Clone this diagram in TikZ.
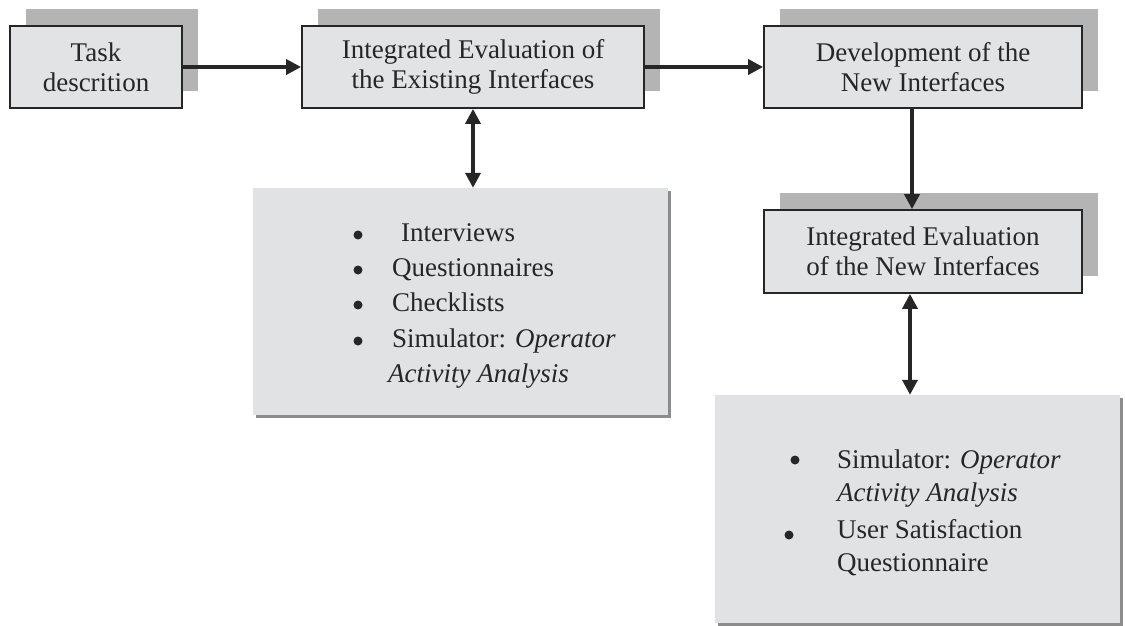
\documentclass[tikz,border=0pt]{standalone}
\usepackage{fontspec}
\setmainfont{Liberation Serif}
\usetikzlibrary{arrows.meta,shadows}
\definecolor{boxfill}{HTML}{E2E3E5}
\definecolor{shadowgray}{HTML}{B4B4B4}
\definecolor{edge}{HTML}{262626}
\definecolor{listfill}{HTML}{E1E2E4}
\definecolor{listshadow}{HTML}{8C8C8C}
\tikzset{
  stage/.style={draw=edge, line width=1.8pt, fill=boxfill, inner sep=0pt, align=center, text=black!85,
    general shadow={draw=none, fill=shadowgray, shadow xshift=16pt, shadow yshift=17pt}},
  listbox/.style={draw=none, fill=listfill, inner sep=0pt,
    general shadow={draw=none, fill=listshadow, shadow xshift=3pt, shadow yshift=-3pt}},
  arr/.style={line width=3.6pt, draw=edge, -{Triangle[length=15pt,width=15pt]}},
  arrtwo/.style={line width=3.6pt, draw=edge, {Triangle[length=15pt,width=15pt]}-{Triangle[length=15pt,width=15pt]}},
  bul/.style={circle, fill=black!85, inner sep=0pt, minimum size=9pt},
  item/.style={anchor=mid west, inner sep=0pt, text=black!85}
}
\begin{document}
\begin{tikzpicture}[x=1pt,y=-1pt, font=\fontsize{27}{30}\selectfont]
\useasboundingbox (0,0) rectangle (1125,626);
% main stages
\node[stage, minimum width=172pt, minimum height=82pt] (task) at (96,67) {Task\\descrition};
\node[stage, minimum width=342pt, minimum height=82pt] (exist) at (473,67) {Integrated Evaluation of\\the Existing Interfaces};
\node[stage, minimum width=318pt, minimum height=82pt] (dev) at (923,67) {Development of the\\New Interfaces};
\node[stage, minimum width=318pt, minimum height=83pt] (neweval) at (923,251.5) {Integrated Evaluation\\of the New Interfaces};
% list boxes
\node[listbox, minimum width=415pt, minimum height=227pt] (listA) at (460.5,301.5) {};
\node[listbox, minimum width=405pt, minimum height=228pt] (listB) at (917.5,509) {};
% list A items
\node[bul] (ba1) at (358,235) {};
\node[item] (ta1) at (401,239) {Interviews};
\node[bul] (ba2) at (358,270) {};
\node[item] (ta2) at (392,274) {Questionnaires};
\node[bul] (ba3) at (358,305) {};
\node[item] (ta3) at (392,309) {Checklists};
\node[bul] (ba4) at (358,341) {};
\node[item] (ta4) at (392,345) {Simulator: \textit{Operator}};
\node[item] (ta5) at (388,380) {\textit{Activity Analysis}};
% list B items
\node[bul] (bb1) at (795,460) {};
\node[item] (tb1) at (837,466) {Simulator: \textit{Operator}};
\node[item] (tb2) at (837,499) {\textit{Activity Analysis}};
\node[bul] (bb2) at (789,535) {};
\node[item] (tb3) at (837,536) {User Satisfaction};
\node[item] (tb4) at (837,569) {Questionnaire};
% connectors
\coordinate (cA) at (912,0);
\coordinate (cB) at (910,0);
\draw[arr] (task.east) -- (exist.west);
\draw[arr] (exist.east) -- (dev.west);
\draw[arr, line width=4.6pt] (dev.south -| cA) -- (neweval.north -| cA);
\draw[arrtwo] (exist.south) -- (listA.north -| exist.south);
\draw[arrtwo] (neweval.south -| cB) -- (listB.north -| cB);
\end{tikzpicture}
\end{document}
